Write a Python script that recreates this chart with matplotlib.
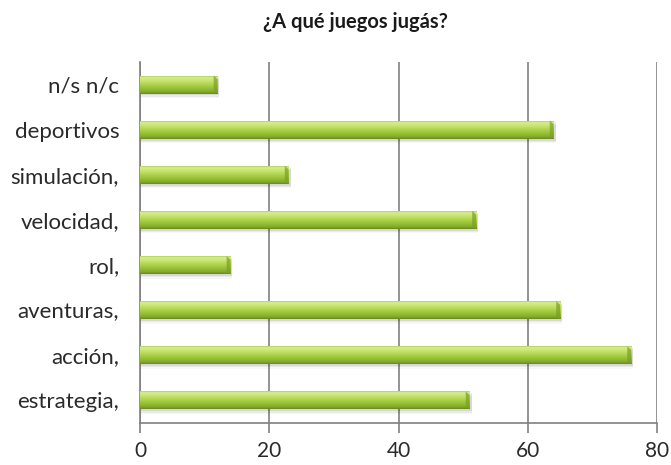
import numpy as np
import matplotlib
matplotlib.use("Agg")
import matplotlib.pyplot as plt
from matplotlib.colors import LinearSegmentedColormap
from matplotlib.patches import Polygon

categories = ["estrategia,", "acción,", "aventuras,", "rol,", "velocidad,",
              "simulación,", "deportivos", "n/s n/c"]
values = [51, 76, 65, 14, 52, 23, 64, 12]
xticks = [0, 20, 40, 60, 80]

plt.rcParams["font.family"] = ["Lato", "DejaVu Sans"]

fig = plt.figure(figsize=(6.71, 4.65), dpi=100)
ax = fig.add_axes([140 / 671, 1 - 423 / 465, 517 / 671, 361 / 465])

# vertical shading of the bars: dark rim, bright highlight, mid green, darker base
bar_cmap = LinearSegmentedColormap.from_list(
    "bar_green",
    [(0.0, "#8fb034"), (0.12, "#d6ee8c"), (0.3, "#c8e472"),
     (0.6, "#a3cb3e"), (0.88, "#84ac2a"), (1.0, "#66881c")])
grad = np.linspace(0, 1, 256).reshape(-1, 1)

height = 0.4
ypos = np.arange(len(categories))
bars = ax.barh(ypos, values, height=height, color="none", edgecolor="none", zorder=3)

for bar in bars:
    x0, y0 = bar.get_x(), bar.get_y()
    w, h = bar.get_width(), bar.get_height()
    # soft drop shadow below the bar
    for k, a in enumerate([0.08, 0.05, 0.03]):
        ax.add_patch(plt.Rectangle((x0, y0 - 0.04 - 0.03 * k), w + 0.3, h,
                                   facecolor="#000000", alpha=a,
                                   edgecolor="none", zorder=2))
    im = ax.imshow(grad, cmap=bar_cmap, aspect="auto",
                   extent=(x0, x0 + w, y0, y0 + h), origin="upper",
                   zorder=3, interpolation="bilinear")
    im.set_clip_path(bar)
    # bevelled right end
    bev = 0.6
    ax.add_patch(Polygon([(x0 + w - bev, y0 + h), (x0 + w, y0 + h - 0.08),
                          (x0 + w, y0), (x0 + w - bev, y0 + 0.05)],
                         closed=True, facecolor="#7a9f26", edgecolor="none",
                         alpha=0.7, zorder=4))

ax.set_xlim(0, 80)
ax.set_ylim(-0.5, len(categories) - 0.5)
ax.set_xticks(xticks)
ax.set_xticklabels([str(t) for t in xticks], fontsize=15, color="#2a2a2a")
ax.set_yticks(ypos)
ax.set_yticklabels(categories, fontsize=16, color="#2a2a2a")

ax.grid(axis="x", color="#808080", linewidth=1.2, zorder=0)
ax.set_axisbelow(True)
for side in ["top", "right"]:
    ax.spines[side].set_visible(False)
for side in ["left", "bottom"]:
    ax.spines[side].set_color("#808080")
    ax.spines[side].set_linewidth(1.2)
ax.tick_params(axis="x", length=7, width=1.2, color="#808080", pad=6)
ax.tick_params(axis="y", length=0, pad=15)

fig.text(0.5 + 20 / 671, 1 - 22 / 465, "¿A qué juegos jugás?", ha="center",
         va="center", fontsize=14.5, fontweight="bold", color="#1a1a1a")

fig.savefig("out.png", dpi=100)
